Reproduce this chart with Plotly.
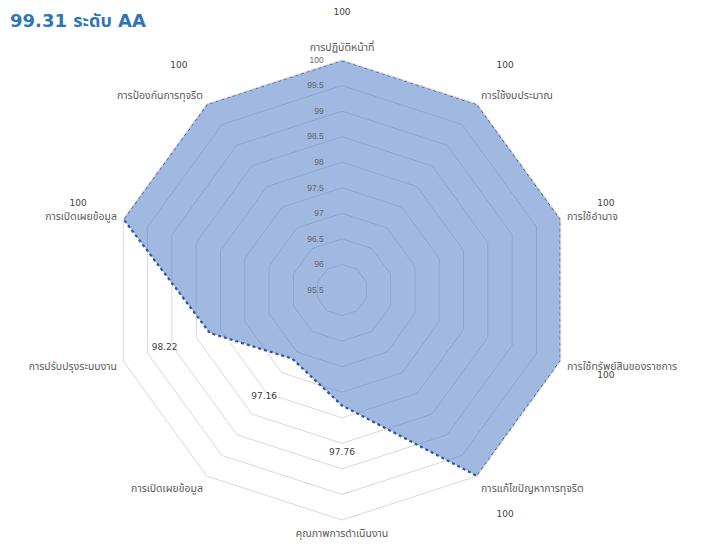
import plotly.graph_objects as go

# ---- data ----
categories = [
    "การปฏิบัติหน้าที่",
    "การใช้งบประมาณ",
    "การใช้อำนาจ",
    "การใช้ทรัพย์สินของราชการ",
    "การแก้ไขปัญหาการทุจริต",
    "คุณภาพการดำเนินงาน",
    "การเปิดเผยข้อมูล",
    "การปรับปรุงระบบงาน",
    "การเปิดเผยข้อมูล",
    "การป้องกันการทุจริต",
]
scores = [100, 100, 100, 100, 100, 97.76, 97.16, 98.22, 100, 100]
radial_ticks = [95.5, 96, 96.5, 97, 97.5, 98, 98.5, 99, 99.5, 100]
radial_ticklabels = ["95.5", "96", "96.5", "97", "97.5", "98", "98.5", "99", "99.5", "100"]
title_text = "99.31 ระดับ AA"

# ---- layout constants (pixels inside the figure) ----
W, H = 695, 536            # page body adds an 8px margin
CX, CY = 334, 282          # centre of the radar
R1 = 230                   # radius of the 100 ring
RMIN, RMAX = 95.5, 100
PX_PER_UNIT = R1 / (RMAX - RMIN)
LABEL_DR = 0.93            # data labels sit this far outside their point
TICK_PAD = "\u00a0" * 7    # pushes radial tick labels to the left of the axis

n = len(categories)
keys = [f"k{i}" for i in range(n)]
step = 360 / n
theta_deg = [i * step for i in range(n)]


def domain_for(radius, bbox):
    """bbox = (x0, y0, x1, y1) of the unit sector; returns polar domain in paper units."""
    x0, y0, x1, y1 = bbox
    left = CX + radius * x0
    right = CX + radius * x1
    top = CY - radius * y1
    bottom = CY - radius * y0
    return dict(x=[left / W, right / W], y=[1 - bottom / H, 1 - top / H])


FONT = "Tahoma, 'Noto Sans Thai', 'Noto Sans', 'DejaVu Sans', sans-serif"
LABEL_FONT = "Verdana, 'DejaVu Sans', sans-serif"

fig = go.Figure()

# main radar (categorical axis -> polygon grid)
fig.add_trace(go.Scatterpolar(
    r=scores + [scores[0]],
    theta=keys + [keys[0]],
    mode="lines",
    fill="toself",
    fillcolor="rgba(68,114,196,0.5)",
    line=dict(color="#2F5597", width=2.2, dash="dot"),
    hoverinfo="skip",
    showlegend=False,
    subplot="polar",
))

# data labels: two helper polar frames sharing the same centre and scale
R2 = 280
R3 = 170
r2_max = RMIN + R2 / PX_PER_UNIT
r3_max = RMIN + R3 / PX_PER_UNIT
lab_r = [v + LABEL_DR for v in scores]
inner = [i for i in range(n) if lab_r[i] <= r3_max]
outer = [i for i in range(n) if lab_r[i] > r3_max]

for idx, sp in ((outer, "polar2"), (inner, "polar3")):
    fig.add_trace(go.Scatterpolar(
        r=[lab_r[i] for i in idx],
        theta=[theta_deg[i] for i in idx],
        mode="text",
        text=[f"{scores[i]:g}" for i in idx],
        textfont=dict(family=LABEL_FONT, size=9, color="#404040"),
        cliponaxis=False,
        showlegend=False,
        hoverinfo="skip",
        subplot=sp,
    ))

hidden_radial = dict(visible=False, showgrid=False, showline=False, showticklabels=False, ticks="")
hidden_angular = dict(type="linear", thetaunit="degrees", rotation=90, direction="clockwise",
                      showgrid=False, showline=False, showticklabels=False, ticks="")

fig.update_layout(
    width=W, height=H,
    margin=dict(l=0, r=0, t=0, b=0),
    paper_bgcolor="white",
    font=dict(family=FONT, size=9, color="#595959"),
    polar=dict(
        domain=domain_for(R1, (-1, -1, 1, 1)),
        bgcolor="rgba(0,0,0,0)",
        gridshape="linear",
        radialaxis=dict(
            range=[RMIN, RMAX],
            tickmode="array",
            tickvals=radial_ticks,
            ticktext=[t + TICK_PAD for t in radial_ticklabels],
            angle=90,
            tickangle=90,
            side="counterclockwise",
            showline=False,
            ticks="",
            gridcolor="#d9d9d9",
            gridwidth=1,
            tickfont=dict(family="'Liberation Sans', Arial, sans-serif", size=8.5, color="#666666"),
        ),
        angularaxis=dict(
            type="category",
            categoryorder="array",
            categoryarray=keys,
            rotation=90,
            direction="clockwise",
            tickmode="array",
            tickvals=keys,
            ticktext=categories,
            showgrid=False,
            showline=True,
            linecolor="#d9d9d9",
            linewidth=1,
            ticks="outside",
            ticklen=4,
            tickcolor="rgba(0,0,0,0)",
            tickfont=dict(family=FONT, size=10.5, color="#595959"),
        ),
    ),
    polar2=dict(
        domain=domain_for(R2, (-1, -0.8660254, 1, 1)),
        sector=[-60, 210],
        bgcolor="rgba(0,0,0,0)",
        radialaxis=dict(range=[RMIN, r2_max], **hidden_radial),
        angularaxis=hidden_angular,
    ),
    polar3=dict(
        domain=domain_for(R3, (-1, -1, 1, 1)),
        bgcolor="rgba(0,0,0,0)",
        radialaxis=dict(range=[RMIN, r3_max], **hidden_radial),
        angularaxis=hidden_angular,
    ),
    annotations=[dict(
        text=f"<b>{title_text}</b>",
        xref="paper", yref="paper", x=0, y=1,
        xanchor="left", yanchor="top", xshift=0, yshift=0,
        showarrow=False,
        font=dict(family="Verdana, 'DejaVu Sans', 'Noto Sans Thai', sans-serif", size=18, color="#2E75B6"),
    )],
)

fig.write_html("out.html")
